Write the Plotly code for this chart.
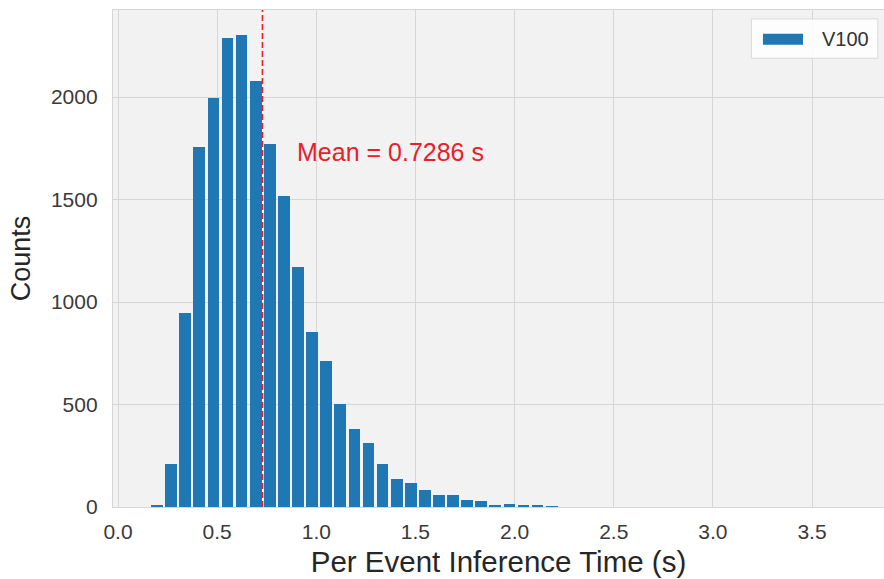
import plotly.graph_objects as go

# Histogram of per-event inference times on a V100 GPU
bin_start = 0.161      # left edge of the first bin (s)
bin_width = 0.0711     # bin width (s)
counts = [12, 212, 946, 1756, 1994, 2287, 2305, 2078, 1771, 1517,
          1172, 855, 711, 505, 383, 314, 212, 135, 119, 85,
          59, 60, 33, 28, 12, 15, 12, 5, 4]
mean_time = 0.7286
series_name = "V100"
x_ticks = [0.0, 0.5, 1.0, 1.5, 2.0, 2.5, 3.0, 3.5]
y_ticks = [0, 500, 1000, 1500, 2000]

centers = [bin_start + bin_width * (i + 0.5) for i in range(len(counts))]

FONT = "Liberation Sans, Arial, sans-serif"
BLUE = "#1f77b4"
RED = "#e8202a"

fig = go.Figure()
fig.add_trace(go.Bar(
    x=centers, y=counts, width=bin_width * 0.83, name=series_name,
    marker=dict(color=BLUE, line=dict(width=0)),
    showlegend=False,
))

# dashed mean marker
fig.add_vline(x=mean_time, line=dict(color=RED, width=1.6, dash="6px,3px"))
fig.add_annotation(
    x=mean_time + 0.165, y=1732, xref="x", yref="y",
    text=f"Mean = {mean_time} s", showarrow=False,
    xanchor="left", yanchor="middle",
    font=dict(family=FONT, size=25, color=RED),
)

# legend box
fig.add_shape(type="rect", xref="paper", yref="paper",
              x0=0.828, x1=0.992, y0=0.903, y1=0.982,
              fillcolor="rgba(255,255,255,0.85)", line=dict(color="#d9d9d9", width=1))
fig.add_shape(type="rect", xref="paper", yref="paper",
              x0=0.843, x1=0.895, y0=0.93, y1=0.952,
              fillcolor=BLUE, line=dict(width=0))
fig.add_annotation(x=0.917, y=0.942, xref="paper", yref="paper",
                   text=series_name, showarrow=False, xanchor="left", yanchor="middle",
                   font=dict(family=FONT, size=20, color="#333333"))

fig.update_layout(
    width=884, height=579,
    margin=dict(l=113, r=0, t=10, b=72),
    paper_bgcolor="white",
    plot_bgcolor="#f2f2f2",
    bargap=0,
    font=dict(family=FONT, color="#333333"),
    xaxis=dict(
        range=[-0.0252, 3.863], tickvals=x_ticks, ticktext=[f"{v:.1f}" for v in x_ticks],
        showgrid=True, gridcolor="#d6d6d6", gridwidth=1.3,
        showline=True, linecolor="#d6d6d6", linewidth=1.3, mirror=True,
        zeroline=False, ticks="", ticklabelstandoff=6,
        tickfont=dict(size=21, color="#3a3a3a"),
        title=dict(text="Per Event Inference Time (s)", standoff=9,
                   font=dict(size=29.5, color="#262626")),
    ),
    yaxis=dict(
        range=[0, 2425], tickvals=y_ticks,
        showgrid=True, gridcolor="#d6d6d6", gridwidth=1.3,
        showline=True, linecolor="#d6d6d6", linewidth=1.3, mirror=True,
        zeroline=False, ticks="", ticklabelstandoff=10,
        tickfont=dict(size=21, color="#3a3a3a"),
        title=dict(text="Counts", standoff=12,
                   font=dict(size=27, color="#262626")),
    ),
)

fig.write_html("out.html")
